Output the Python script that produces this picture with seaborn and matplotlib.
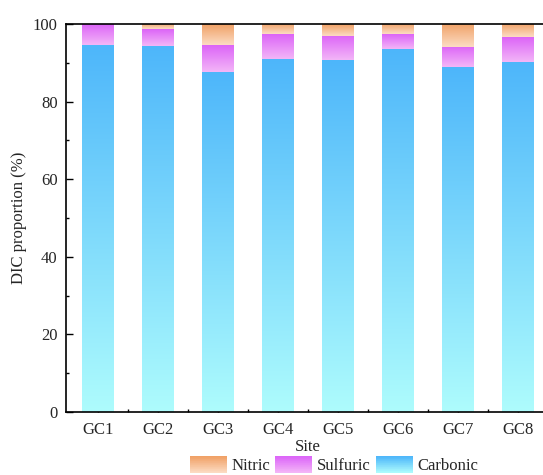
import numpy as np
import pandas as pd
import matplotlib
matplotlib.use("Agg")
import matplotlib.pyplot as plt
from matplotlib.colors import LinearSegmentedColormap, to_rgb
from matplotlib.patches import Rectangle
from matplotlib.legend_handler import HandlerBase
from matplotlib.ticker import MultipleLocator, FixedLocator
import seaborn as sns

# DIC source contributions (%) per sampling site
sites = ["GC1", "GC2", "GC3", "GC4", "GC5", "GC6", "GC7", "GC8"]
carbonic = [94.6, 94.4, 87.7, 91.0, 90.7, 93.5, 88.8, 90.3]
sulfuric = [5.4, 4.3, 6.9, 6.4, 6.3, 3.8, 5.2, 6.3]
nitric = [0.0, 1.3, 5.4, 2.6, 3.0, 2.7, 6.0, 3.4]

# gradient colours (bottom, top) for each component
grad_colors = {
    "Carbonic": ("#AEFCFD", "#4DB6FA"),
    "Sulfuric": ("#F3B6F7", "#DC64F8"),
    "Nitric": ("#FCDCC4", "#F0A065"),
}

sns.set_theme(style="white")
plt.rcParams["font.family"] = ["Liberation Serif", "DejaVu Serif"]
plt.rcParams["font.size"] = 12

W, H = 543, 475
fig = plt.figure(figsize=(W / 100, H / 100), dpi=100)
ax_left, ax_right, ax_top, ax_bottom = 66, 549.6, 24, 412
ax = fig.add_axes([ax_left / W, 1 - ax_bottom / H,
                   (ax_right - ax_left) / W, (ax_bottom - ax_top) / H])

df = pd.DataFrame({"site": sites, "Carbonic": carbonic,
                   "Sulfuric": sulfuric, "Nitric": nitric})
df["bottom_sulf"] = df["Carbonic"]
df["bottom_nit"] = df["Carbonic"] + df["Sulfuric"]

bar_width = 0.52
layers = [("Carbonic", None), ("Sulfuric", "bottom_sulf"), ("Nitric", "bottom_nit")]


def gradient_fill(patches, name):
    lo, hi = grad_colors[name]
    cmap = LinearSegmentedColormap.from_list(name, [lo, hi])
    grad = np.linspace(0, 1, 256).reshape(-1, 1)
    for p in patches:
        x, y = p.get_x(), p.get_y()
        w, h = p.get_width(), p.get_height()
        if h <= 0:
            continue
        ax.imshow(grad, extent=[x, x + w, y, y + h], origin="lower",
                  cmap=cmap, aspect="auto", interpolation="bicubic", zorder=2)
        p.set_facecolor("none")
        p.set_edgecolor("none")


for name, bottom_col in layers:
    n_before = len(ax.patches)
    kw = {}
    if bottom_col is not None:
        kw["bottom"] = df[bottom_col].values
    sns.barplot(data=df, x="site", y=name, width=bar_width, ax=ax,
                color=grad_colors[name][1], linewidth=0, **kw)
    gradient_fill(ax.patches[n_before:], name)

ax.set_xlim(-0.53, 7.53)
ax.set_ylim(0, 100)
ax.set_xlabel("Site", fontsize=12, labelpad=1)
ax.set_ylabel("DIC proportion (%)", fontsize=12, labelpad=4)

ax.yaxis.set_major_locator(MultipleLocator(20))
ax.yaxis.set_minor_locator(MultipleLocator(10))
ax.xaxis.set_minor_locator(FixedLocator(np.arange(0.5, 7, 1)))
ax.tick_params(axis="both", which="major", direction="in", length=5,
               width=1, color="black", labelsize=12, pad=6)
ax.tick_params(axis="both", which="minor", direction="in", length=2.5,
               width=1, color="black")
ax.tick_params(axis="x", which="major", pad=7)
ax.tick_params(bottom=True, left=True, which="both")

for s in ax.spines.values():
    s.set_color("black")
    s.set_linewidth(1.2)


class GradientHandler(HandlerBase):
    def __init__(self, name, **kw):
        super().__init__(**kw)
        self.name = name

    def create_artists(self, legend, orig_handle, xdescent, ydescent,
                       width, height, fontsize, trans):
        lo, hi = np.array(to_rgb(grad_colors[self.name][0])), np.array(to_rgb(grad_colors[self.name][1]))
        n = 24
        arts = []
        for i in range(n):
            t = (i + 0.5) / n
            c = lo + (hi - lo) * t
            r = Rectangle((-xdescent, -ydescent + height * i / n), width,
                          height / n + 0.3, facecolor=c, edgecolor="none",
                          transform=trans)
            arts.append(r)
        return arts


handles = [Rectangle((0, 0), 1, 1) for _ in range(3)]
names = ["Nitric", "Sulfuric", "Carbonic"]
fig.legend(handles, names, loc="upper left",
           bbox_to_anchor=(190 / W, 1 - 456.5 / H), ncol=3, frameon=False,
           borderpad=0, borderaxespad=0, handlelength=2.2, handleheight=1.1,
           handletextpad=0.3, columnspacing=0.3, fontsize=12,
           handler_map={h: GradientHandler(n) for h, n in zip(handles, names)})

fig.savefig("out.png", dpi=100)
